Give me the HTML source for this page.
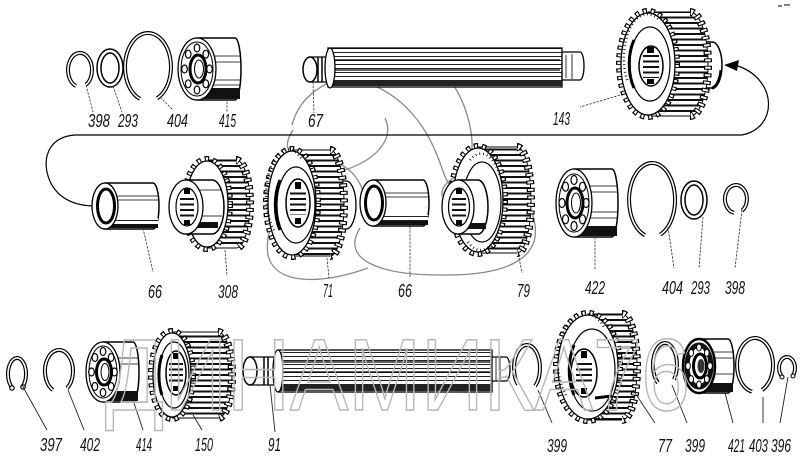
<!DOCTYPE html>
<html><head><meta charset="utf-8">
<style>
html,body{margin:0;padding:0;background:#fff;}
svg{display:block;}
.tb{fill:none;stroke:#000;stroke-width:8;stroke-dasharray:4 3.5;}
.tw{fill:none;stroke:#fff;stroke-width:5.5;stroke-dasharray:2 5.5;stroke-dashoffset:-1;}
.ff{fill:#fff;stroke:#000;stroke-width:1.3;}
.ln{fill:none;stroke:#000;stroke-width:1.2;}
.ld{fill:none;stroke:#333;stroke-width:0.8;stroke-dasharray:2.5 1.2;}
.rb{fill:none;stroke:#000;stroke-width:4;}
.rw{fill:none;stroke:#fff;stroke-width:1.6;}
.sw{fill:none;stroke:#8a8a8a;stroke-width:1.3;}
.tk{fill:none;stroke:#000;stroke-width:2.5;stroke-dasharray:0.8 3;}
text.lb{font-family:"Liberation Sans",sans-serif;font-style:italic;font-size:18px;fill:#111;}
</style></head><body>
<svg width="800" height="461" viewBox="0 0 800 461" xmlns="http://www.w3.org/2000/svg">
<defs>
<pattern id="gs" patternUnits="userSpaceOnUse" width="8" height="5.5"><rect width="8" height="5.5" fill="#fff"/><rect width="8" height="2" fill="#111"/></pattern>
<pattern id="ss" patternUnits="userSpaceOnUse" width="8" height="4"><rect width="8" height="4" fill="#fff"/><rect width="8" height="1" fill="#222"/></pattern>
</defs>
<rect width="800" height="461" fill="#fff"/>

<!-- gray swirl -->
<path class="sw" d="M292,125 C298,102 315,86 345,76"/>
<path class="sw" d="M377,87 C405,100 425,125 437,155 C445,175 445,182 455,190"/>
<path class="sw" d="M450,80 C468,105 476,140 470,160 C465,178 440,178 442,196"/>
<path class="sw" d="M385,118 C395,140 375,160 345,170 C300,185 262,215 268,255 C275,285 320,285 368,268"/>
<path class="sw" d="M293,130 C280,150 290,160 320,160 C350,160 370,185 365,220"/>
<path class="sw" d="M360,228 C340,260 380,275 440,275 C500,276 540,262 535,225 C532,200 510,178 480,175"/>

<!-- connector line and arrow -->
<path class="ln" d="M742,135 L75,135 C48,137 44,158 47,172 C52,195 70,205 92,206"/>
<path class="ln" d="M742,135 C778,128 778,80 738,66"/>
<path d="M724,65 L739,60 L737,71 Z" fill="#000"/>
<path d="M778,6 h4 M784,5 h6" stroke="#000" stroke-width="1"/>

<!-- ===== TOP ROW ===== -->
<path class="rb" d="M76,86 A12 17 0 1 1 86,84.7"/><path class="rw" d="M76,86 A12 17 0 1 1 86,84.7"/>
<ellipse cx="110" cy="68" rx="11" ry="17" fill="none" stroke="#000" stroke-width="5.5"/>
<ellipse cx="110" cy="68" rx="11" ry="17" fill="none" stroke="#fff" stroke-width="2.5"/>
<path class="rb" d="M140,98.9 A23 34 0 1 1 157,98.3"/><path class="rw" d="M140,98.9 A23 34 0 1 1 157,98.3"/>
<!-- 415 bearing -->
<path d="M197,38 L235,38 A6 31 0 0 1 235,100 L197,100 Z" fill="#fff" stroke="#000" stroke-width="1.5"/>
<rect x="200" y="88" width="40" height="11" fill="#111"/>
<path d="M205,56 H240 M205,62 H240 M205,80 H240 M205,85 H240" stroke="#000" stroke-width="0.8"/>
<ellipse cx="197" cy="69" rx="19" ry="31" class="ff" stroke-width="2"/>
<ellipse cx="197" cy="69" rx="16" ry="27" fill="none" stroke="#000" stroke-width="1"/>
<g fill="#fff" stroke="#000" stroke-width="1.2">
<ellipse cx="209.5" cy="69" rx="2.8" ry="4"/><ellipse cx="205.8" cy="83.8" rx="2.8" ry="4"/><ellipse cx="197" cy="90" rx="2.8" ry="4"/><ellipse cx="188.2" cy="83.8" rx="2.8" ry="4"/><ellipse cx="184.5" cy="69" rx="2.8" ry="4"/><ellipse cx="188.2" cy="54.2" rx="2.8" ry="4"/><ellipse cx="197" cy="48" rx="2.8" ry="4"/><ellipse cx="205.8" cy="54.2" rx="2.8" ry="4"/>
</g>
<ellipse cx="198" cy="69" rx="8" ry="14" fill="#fff" stroke="#000" stroke-width="3"/>
<ellipse cx="199" cy="69" rx="4.5" ry="9" fill="#fff" stroke="#000" stroke-width="1"/>

<!-- 67 shaft -->
<rect x="328" y="48" width="234" height="39" fill="url(#ss)" stroke="#000" stroke-width="1.3"/>
<rect x="330" y="80" width="232" height="6" fill="#222"/>
<path d="M330,60 H560 M330,70 H560" stroke="#000" stroke-width="1.2"/>
<path d="M562,52 L580,52 A4 14 0 0 1 580,80 L562,80 Z" fill="#fff" stroke="#000" stroke-width="1.3"/>
<path d="M566,55 V78 M572,54 V79" stroke="#000" stroke-width="0.8"/>
<path d="M310,57 L330,57 L330,82 L310,82 Z" fill="#fff" stroke="#000" stroke-width="1.3"/>
<path d="M318,57 V82 M322,57 V82" stroke="#000" stroke-width="1.5"/>
<ellipse cx="330" cy="68" rx="5" ry="20" fill="#fff" stroke="#000" stroke-width="1.3"/>
<ellipse cx="310" cy="69.5" rx="7" ry="12.5" fill="#fff" stroke="#000" stroke-width="1.5"/>

<!-- 143 gear -->
<path d="M700,42 L712,42 A10 23 0 0 1 712,88 L700,88 Z" fill="#fff" stroke="#000" stroke-width="1.5"/>
<path d="M712,88 A10 23 0 0 0 721,70" fill="none" stroke="#000" stroke-width="3"/>
<path d="M648,12 L690,12 A18 52 0 0 1 690,116 L648,116 Z" fill="url(#gs)" stroke="#000" stroke-width="1"/>
<path class="tb" d="M690,12 A18 52 0 0 1 690,116"/><path class="tw" d="M690,12 A18 52 0 0 1 690,116"/>
<ellipse class="tb" cx="648" cy="64" rx="28" ry="52"/><ellipse class="tw" cx="648" cy="64" rx="28" ry="52"/>
<ellipse class="ff" cx="648" cy="64" rx="27" ry="51"/>
<ellipse cx="650" cy="64" rx="20" ry="37" fill="none" stroke="#000" stroke-width="1.2"/>
<path class="tk" d="M627,80 A23.5 44 0 0 1 660,21"/>
<path d="M634,40 A20 37 0 0 0 634,88" fill="none" stroke="#000" stroke-width="3"/>
<ellipse cx="651" cy="66" rx="12" ry="20" fill="#fff" stroke="#000" stroke-width="1.5"/>
<rect x="643" y="54" width="16" height="24" fill="url(#gs)"/>
<rect x="647" y="47" width="7" height="6" fill="#000"/><rect x="647" y="79" width="7" height="5" fill="#000"/>

<!-- ===== MIDDLE ROW ===== -->
<path d="M105,183 L153,183 A6 23 0 0 1 153,229 L105,229 Z" fill="#fff" stroke="#000" stroke-width="1.5"/>
<rect x="108" y="218" width="50" height="10" fill="url(#ss)"/>
<rect x="108" y="224" width="50" height="4" fill="#111"/>
<path d="M110,196 H158 M110,200 H158" stroke="#000" stroke-width="0.8"/>
<ellipse cx="105" cy="206" rx="13" ry="23" class="ff" stroke-width="2"/>
<ellipse cx="106" cy="206" rx="8.5" ry="17" fill="#fff" stroke="#000" stroke-width="3"/>

<!-- 308 gear -->
<path d="M207,160 L236,160 A14 44 0 0 1 236,248 L207,248 Z" fill="url(#gs)" stroke="#000" stroke-width="1"/>
<path class="tb" d="M236,160 A14 44 0 0 1 236,248"/><path class="tw" d="M236,160 A14 44 0 0 1 236,248"/>
<ellipse class="tb" cx="207" cy="204" rx="22" ry="44"/><ellipse class="tw" cx="207" cy="204" rx="22" ry="44"/>
<ellipse class="ff" cx="207" cy="204" rx="21" ry="43"/>
<path d="M186,180 L212,180 A12 27 0 0 1 212,234 L186,234 Z" fill="#fff" stroke="#000" stroke-width="1.5"/>
<rect x="190" y="222" width="28" height="6" fill="#111"/>
<path d="M195,190 H222 M195,216 H222" stroke="#000" stroke-width="0.8"/>
<ellipse cx="186" cy="207" rx="17" ry="27" class="ff" stroke-width="1.8"/>
<ellipse cx="187" cy="207" rx="11" ry="19" fill="#fff" stroke="#000" stroke-width="1.2"/>
<rect x="180" y="196" width="14" height="22" fill="url(#gs)"/>
<rect x="184" y="188" width="6" height="6" fill="#000"/><rect x="184" y="220" width="6" height="5" fill="#000"/>

<!-- 71 gear -->
<path d="M335,181 L346,181 A10 24 0 0 1 346,229 L335,229 Z" fill="#fff" stroke="#000" stroke-width="1.3"/>
<path d="M292,150 L330,150 A14 53 0 0 1 330,256 L292,256 Z" fill="url(#gs)" stroke="#000" stroke-width="1"/>
<path class="tb" d="M330,150 A14 53 0 0 1 330,256"/><path class="tw" d="M330,150 A14 53 0 0 1 330,256"/>
<ellipse class="tb" cx="292" cy="203" rx="25" ry="53"/><ellipse class="tw" cx="292" cy="203" rx="25" ry="53"/>
<ellipse class="ff" cx="292" cy="203" rx="24" ry="52"/>
<ellipse cx="296" cy="205" rx="19" ry="38" fill="none" stroke="#000" stroke-width="1.2"/>
<path class="tk" d="M274,230 A21.5 45 0 0 1 302,160"/>
<path d="M280,180 A19 38 0 0 0 280,230" fill="none" stroke="#000" stroke-width="3"/>
<ellipse cx="298" cy="203" rx="12" ry="24" fill="#fff" stroke="#000" stroke-width="1.5"/>
<rect x="290" y="191" width="16" height="24" fill="url(#gs)"/>
<rect x="295" y="182" width="6" height="7" fill="#000"/><rect x="295" y="218" width="6" height="6" fill="#000"/>

<!-- 66 bushing 2 -->
<path d="M373,180 L423,180 A6 23 0 0 1 423,226 L373,226 Z" fill="#fff" stroke="#000" stroke-width="1.5"/>
<rect x="376" y="215" width="52" height="10" fill="url(#ss)"/>
<rect x="376" y="221" width="52" height="4" fill="#111"/>
<path d="M380,193 H428 M380,197 H428" stroke="#000" stroke-width="0.8"/>
<ellipse cx="373" cy="203" rx="13" ry="23" class="ff" stroke-width="2"/>
<ellipse cx="374" cy="203" rx="8.5" ry="17" fill="#fff" stroke="#000" stroke-width="3"/>

<!-- 79 gear -->
<path d="M478,147 L517,147 A14 53 0 0 1 517,253 L478,253 Z" fill="url(#gs)" stroke="#000" stroke-width="1"/>
<path class="tb" d="M517,147 A14 53 0 0 1 517,253"/><path class="tw" d="M517,147 A14 53 0 0 1 517,253"/>
<ellipse class="tb" cx="478" cy="200" rx="26" ry="53"/><ellipse class="tw" cx="478" cy="200" rx="26" ry="53"/>
<ellipse class="ff" cx="478" cy="200" rx="25" ry="52"/>
<ellipse cx="482" cy="202" rx="19" ry="40" fill="none" stroke="#000" stroke-width="1.2"/>
<path class="tk" d="M470,160 A22 46 0 0 1 500,176"/>
<path class="tk" d="M468,242 A22 46 0 0 0 498,232"/>
<path d="M458,180 L478,180 A10 27 0 0 1 478,234 L458,234 Z" fill="#fff" stroke="#000" stroke-width="1.5"/>
<rect x="462" y="223" width="24" height="6" fill="#111"/>
<ellipse cx="458" cy="207" rx="16" ry="27" class="ff" stroke-width="1.8"/>
<ellipse cx="459" cy="207" rx="10.5" ry="19" fill="#fff" stroke="#000" stroke-width="1.2"/>
<rect x="452" y="196" width="14" height="22" fill="url(#gs)"/>
<rect x="456" y="188" width="6" height="6" fill="#000"/><rect x="456" y="220" width="6" height="5" fill="#000"/>

<!-- 422 bearing -->
<path d="M574,169 L612,169 A6 34 0 0 1 612,237 L574,237 Z" fill="#fff" stroke="#000" stroke-width="1.5"/>
<rect x="578" y="226" width="39" height="10" fill="#111"/>
<path d="M580,186 H617 M580,192 H617 M580,212 H617 M580,218 H617" stroke="#000" stroke-width="0.8"/>
<ellipse cx="574" cy="203" rx="18" ry="34" class="ff" stroke-width="2"/>
<ellipse cx="574" cy="203" rx="15" ry="29" fill="none" stroke="#000" stroke-width="1"/>
<g fill="#fff" stroke="#000" stroke-width="1.2">
<ellipse cx="586" cy="203" rx="3" ry="4.5"/><ellipse cx="582.5" cy="219.3" rx="3" ry="4.5"/><ellipse cx="574" cy="226" rx="3" ry="4.5"/><ellipse cx="565.5" cy="219.3" rx="3" ry="4.5"/><ellipse cx="562" cy="203" rx="3" ry="4.5"/><ellipse cx="565.5" cy="186.7" rx="3" ry="4.5"/><ellipse cx="574" cy="180" rx="3" ry="4.5"/><ellipse cx="582.5" cy="186.7" rx="3" ry="4.5"/>
</g>
<ellipse cx="575" cy="203" rx="8" ry="15" fill="#fff" stroke="#000" stroke-width="3"/>
<ellipse cx="576" cy="203" rx="4.5" ry="10" fill="#fff" stroke="#000" stroke-width="1"/>

<path class="rb" d="M645,235.2 A23 37 0 1 1 660,234.7"/><path class="rw" d="M645,235.2 A23 37 0 1 1 660,234.7"/>
<ellipse cx="694" cy="200" rx="11" ry="17" fill="none" stroke="#000" stroke-width="5.5"/>
<ellipse cx="694" cy="200" rx="11" ry="17" fill="none" stroke="#fff" stroke-width="2.5"/>
<path class="rb" d="M734,212.8 A11 14 0 1 1 742,210.7" stroke-width="3.4"/><path class="rw" d="M734,212.8 A11 14 0 1 1 742,210.7" stroke-width="1.2"/>

<!-- ===== BOTTOM ROW ===== -->
<path class="rb" d="M13,388.3 A9 16 0 1 1 22,387.3" stroke-width="3.4"/><path class="rw" d="M13,388.3 A9 16 0 1 1 22,387.3" stroke-width="1.2"/>
<circle cx="12" cy="388" r="2.2" fill="#fff" stroke="#000" stroke-width="1.2"/><circle cx="23" cy="387" r="2.2" fill="#fff" stroke="#000" stroke-width="1.2"/>
<path class="rb" d="M53,390 A14 21 0 1 1 67,388.2"/><path class="rw" d="M53,390 A14 21 0 1 1 67,388.2"/>
<!-- 414 bearing -->
<path d="M103,342 L133,342 A6 30 0 0 1 133,402 L103,402 Z" fill="#fff" stroke="#000" stroke-width="1.5"/>
<rect x="107" y="391" width="31" height="10" fill="#111"/>
<path d="M110,358 H138 M110,364 H138" stroke="#000" stroke-width="0.8"/>
<ellipse cx="103" cy="372" rx="17" ry="30" class="ff" stroke-width="2"/>
<ellipse cx="103" cy="372" rx="14" ry="26" fill="none" stroke="#000" stroke-width="1"/>
<g fill="#fff" stroke="#000" stroke-width="1.2">
<ellipse cx="114.5" cy="372" rx="2.8" ry="4"/><ellipse cx="111.1" cy="386.5" rx="2.8" ry="4"/><ellipse cx="103" cy="392.5" rx="2.8" ry="4"/><ellipse cx="94.9" cy="386.5" rx="2.8" ry="4"/><ellipse cx="91.5" cy="372" rx="2.8" ry="4"/><ellipse cx="94.9" cy="357.5" rx="2.8" ry="4"/><ellipse cx="103" cy="351.5" rx="2.8" ry="4"/><ellipse cx="111.1" cy="357.5" rx="2.8" ry="4"/>
</g>
<ellipse cx="104" cy="372" rx="7.5" ry="13" fill="#fff" stroke="#000" stroke-width="3"/>
<ellipse cx="105" cy="372" rx="4" ry="8.5" fill="#fff" stroke="#000" stroke-width="1"/>

<!-- 150 gear -->
<path d="M172,332 L218,332 A14 43 0 0 1 218,418 L172,418 Z" fill="url(#gs)" stroke="#000" stroke-width="1"/>
<path class="tb" d="M218,332 A14 43 0 0 1 218,418"/><path class="tw" d="M218,332 A14 43 0 0 1 218,418"/>
<ellipse class="tb" cx="172" cy="375" rx="20" ry="43"/><ellipse class="tw" cx="172" cy="375" rx="20" ry="43"/>
<ellipse class="ff" cx="172" cy="375" rx="19" ry="42"/>
<ellipse cx="174" cy="375" rx="15" ry="33" fill="none" stroke="#000" stroke-width="1.2"/>
<path d="M162,355 A15 33 0 0 0 162,395" fill="none" stroke="#000" stroke-width="3"/>
<ellipse cx="176" cy="373" rx="10" ry="22" fill="#fff" stroke="#000" stroke-width="1.5"/>
<rect x="169" y="362" width="14" height="22" fill="url(#gs)"/>
<rect x="173" y="353" width="6" height="6" fill="#000"/><rect x="173" y="386" width="6" height="5" fill="#000"/>

<!-- 91 shaft -->
<rect x="278" y="350" width="214" height="42" fill="url(#ss)" stroke="#000" stroke-width="1.3"/>
<rect x="280" y="384" width="212" height="7" fill="#222"/>
<path d="M280,362 H490 M280,372 H490" stroke="#000" stroke-width="1.2"/>
<path d="M492,357 L506,357 A4 12 0 0 1 506,381 L492,381 Z" fill="#fff" stroke="#000" stroke-width="1.3"/>
<path d="M496,358 V380 M500,358 V380" stroke="#000" stroke-width="0.8"/>
<path d="M250,357 L278,357 L278,385 L250,385 Z" fill="#fff" stroke="#000" stroke-width="1.3"/>
<path d="M264,357 V385 M268,357 V385" stroke="#000" stroke-width="1.5"/>
<ellipse cx="278" cy="371" rx="5" ry="21" fill="#fff" stroke="#000" stroke-width="1.3"/>
<ellipse cx="250" cy="371" rx="7" ry="14" fill="#fff" stroke="#000" stroke-width="1.5"/>

<path class="rb" d="M518,384.6 A13 23 0 1 1 535,386.1"/><path class="rw" d="M518,384.6 A13 23 0 1 1 535,386.1"/>

<!-- 77 gear -->
<path d="M588,314 L622,314 A15 53 0 0 1 622,420 L588,420 Z" fill="url(#gs)" stroke="#000" stroke-width="1"/>
<path class="tb" d="M622,314 A15 53 0 0 1 622,420"/><path class="tw" d="M622,314 A15 53 0 0 1 622,420"/>
<ellipse class="tb" cx="588" cy="367" rx="31" ry="53"/><ellipse class="tw" cx="588" cy="367" rx="31" ry="53"/>
<ellipse class="ff" cx="588" cy="367" rx="30" ry="52"/>
<ellipse cx="592" cy="370" rx="23" ry="41" fill="none" stroke="#000" stroke-width="1.2"/>
<path class="tk" d="M566,395 A26.5 46 0 0 1 604,327"/>
<path d="M574,345 A23 41 0 0 0 574,395" fill="none" stroke="#000" stroke-width="3"/>
<path d="M595,398 L612,396" stroke="#000" stroke-width="3"/>
<ellipse cx="584" cy="373" rx="13" ry="24" fill="#fff" stroke="#000" stroke-width="1.5"/>
<rect x="576" y="361" width="16" height="24" fill="url(#gs)"/>
<rect x="581" y="351" width="6" height="7" fill="#000"/><rect x="581" y="388" width="6" height="6" fill="#000"/>

<path class="rb" d="M658,382.9 A12 22 0 1 1 674,379.5"/><path class="rw" d="M658,382.9 A12 22 0 1 1 674,379.5"/>

<!-- 421 bearing -->
<path d="M699,339 L728,339 A6 27 0 0 1 728,393 L699,393 Z" fill="#fff" stroke="#000" stroke-width="1.5"/>
<rect x="703" y="383" width="30" height="9" fill="#111"/>
<path d="M705,352 H733 M705,358 H733 M705,374 H733" stroke="#000" stroke-width="0.8"/>
<ellipse cx="699" cy="366" rx="16" ry="27" fill="#fff" stroke="#000" stroke-width="2.5"/>
<ellipse cx="699" cy="366" rx="12" ry="21" fill="none" stroke="#111" stroke-width="5"/>
<g fill="#fff" stroke="#000" stroke-width="1">
<ellipse cx="710" cy="366" rx="2.4" ry="3.5"/><ellipse cx="706.8" cy="379.1" rx="2.4" ry="3.5"/><ellipse cx="699" cy="384.5" rx="2.4" ry="3.5"/><ellipse cx="691.2" cy="379.1" rx="2.4" ry="3.5"/><ellipse cx="688" cy="366" rx="2.4" ry="3.5"/><ellipse cx="691.2" cy="352.9" rx="2.4" ry="3.5"/><ellipse cx="699" cy="347.5" rx="2.4" ry="3.5"/><ellipse cx="706.8" cy="352.9" rx="2.4" ry="3.5"/>
</g>
<ellipse cx="700" cy="366" rx="6.5" ry="12" fill="#fff" stroke="#000" stroke-width="3"/>
<ellipse cx="701" cy="366" rx="3.5" ry="7" fill="#333"/>

<path class="rb" d="M752,391.6 A18 27 0 1 1 762,389.9"/><path class="rw" d="M752,391.6 A18 27 0 1 1 762,389.9"/>
<path class="rb" d="M783,377.5 A8 11 0 1 1 792,376.6" stroke-width="3.2"/><path class="rw" d="M783,377.5 A8 11 0 1 1 792,376.6" stroke-width="1.1"/>
<circle cx="782" cy="377" r="2" fill="#fff" stroke="#000" stroke-width="1.1"/><circle cx="793" cy="376" r="2" fill="#fff" stroke="#000" stroke-width="1.1"/>

<!-- leader lines -->
<g class="ld">
<path d="M86,85 L93,112"/><path d="M113,86 L122,112"/><path d="M160,97 L173,110"/><path d="M227,98 L227,112"/><path d="M313,82 L314,113"/><path d="M620,95 L580,107"/>
<path d="M143,228 L153,272"/><path d="M225,250 L227,276"/><path d="M327,258 L329,278"/><path d="M410,223 L410,277"/><path d="M517,247 L522,273"/><path d="M595,237 L595,270"/><path d="M668,227 L674,268"/><path d="M703,217 L699,268"/><path d="M742,210 L735,268"/>
</g>
<g fill="none" stroke="#222" stroke-width="0.9">
<path d="M22,385 L47,430"/><path d="M68,390 L84,430"/><path d="M133,400 L143,430"/><path d="M193,415 L202,430"/><path d="M270,385 L275,432"/><path d="M538,390 L552,423"/><path d="M633,390 L655,423"/><path d="M672,385 L687,423"/><path d="M725,393 L733,423"/><path d="M763,397 L763,423"/><path d="M788,377 L780,423"/>
</g>

<!-- watermark -->
<text x="105" y="410" font-family="Liberation Sans, sans-serif" font-size="102" textLength="585" lengthAdjust="spacingAndGlyphs" fill="none" stroke="#b8b8b8" stroke-width="1.6">ДИНАМИКА76</text>

<!-- labels -->
<text class="lb" x="88" y="127" textLength="22" lengthAdjust="spacingAndGlyphs">398</text>
<text class="lb" x="118" y="127" textLength="20" lengthAdjust="spacingAndGlyphs">293</text>
<text class="lb" x="167" y="127" textLength="21" lengthAdjust="spacingAndGlyphs">404</text>
<text class="lb" x="219" y="127" textLength="17" lengthAdjust="spacingAndGlyphs">415</text>
<text class="lb" x="308" y="127" textLength="15" lengthAdjust="spacingAndGlyphs">67</text>
<text class="lb" x="553" y="125" textLength="17" lengthAdjust="spacingAndGlyphs">143</text>

<text class="lb" x="148" y="298" textLength="14" lengthAdjust="spacingAndGlyphs">66</text>
<text class="lb" x="218" y="298" textLength="20" lengthAdjust="spacingAndGlyphs">308</text>
<text class="lb" x="323" y="297" textLength="10" lengthAdjust="spacingAndGlyphs">71</text>
<text class="lb" x="398" y="297" textLength="14" lengthAdjust="spacingAndGlyphs">66</text>
<text class="lb" x="517" y="297" textLength="13" lengthAdjust="spacingAndGlyphs">79</text>
<text class="lb" x="585" y="294" textLength="20" lengthAdjust="spacingAndGlyphs">422</text>
<text class="lb" x="662" y="294" textLength="21" lengthAdjust="spacingAndGlyphs">404</text>
<text class="lb" x="691" y="294" textLength="19" lengthAdjust="spacingAndGlyphs">293</text>
<text class="lb" x="725" y="294" textLength="20" lengthAdjust="spacingAndGlyphs">398</text>

<text class="lb" x="40" y="451" textLength="22" lengthAdjust="spacingAndGlyphs">397</text>
<text class="lb" x="80" y="451" textLength="20" lengthAdjust="spacingAndGlyphs">402</text>
<text class="lb" x="136" y="451" textLength="16" lengthAdjust="spacingAndGlyphs">414</text>
<text class="lb" x="195" y="451" textLength="18" lengthAdjust="spacingAndGlyphs">150</text>
<text class="lb" x="268" y="451" textLength="13" lengthAdjust="spacingAndGlyphs">91</text>
<text class="lb" x="547" y="452" textLength="20" lengthAdjust="spacingAndGlyphs">399</text>
<text class="lb" x="658" y="452" textLength="14" lengthAdjust="spacingAndGlyphs">77</text>
<text class="lb" x="685" y="452" textLength="20" lengthAdjust="spacingAndGlyphs">399</text>
<text class="lb" x="728" y="452" textLength="17" lengthAdjust="spacingAndGlyphs">421</text>
<text class="lb" x="749" y="452" textLength="19" lengthAdjust="spacingAndGlyphs">403</text>
<text class="lb" x="771" y="452" textLength="20" lengthAdjust="spacingAndGlyphs">396</text>
</svg>
</body></html>
